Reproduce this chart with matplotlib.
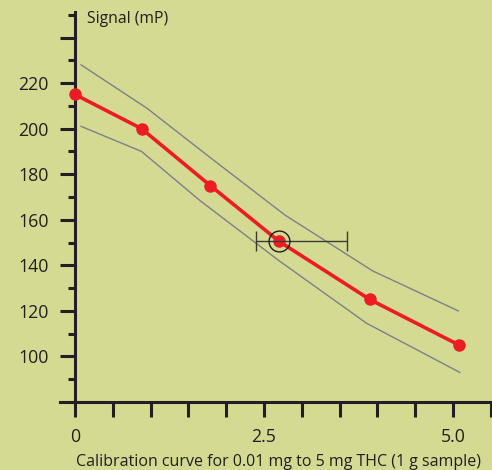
import matplotlib
matplotlib.use("Agg")
import matplotlib.pyplot as plt
from matplotlib.ticker import MultipleLocator

# calibration points
conc = [0.0, 0.88, 1.79, 2.70, 3.90, 5.08]
signal = [215, 200, 175, 150.5, 125, 105]

# upper / lower confidence band
upper_x = [0.08, 0.95, 1.80, 2.78, 3.94, 5.07]
upper_y = [228, 209, 187, 162, 137.5, 120]
lower_x = [0.08, 0.88, 1.65, 2.70, 3.86, 5.09]
lower_y = [201, 190, 168.5, 142, 114.5, 93]

# sample measurement with its uncertainty range
sample_x = 2.70
sample_y = 150.5
sample_lo = 2.39
sample_hi = 3.60

ytick_vals = [100, 120, 140, 160, 180, 200, 220, 240]
ytick_labels = ["100", "120", "140", "160", "180", "200", "220", ""]
xtick_vals = [0, 0.5, 1.0, 1.5, 2.0, 2.5, 3.0, 3.5, 4.0, 4.5, 5.0, 5.5]
xtick_labels = ["0", "", "", "", "", "2.5", "", "", "", "", "5.0", ""]

bg = "#d4da92"
ink = "#231f20"

plt.rcParams['font.family'] = ['Open Sans', 'DejaVu Sans']

fig = plt.figure(figsize=(4.92, 4.70), dpi=100, facecolor=bg)
ax = fig.add_axes([60/492, 68/470, 432/492, 390/470])
ax.set_facecolor(bg)

ax.plot(upper_x, upper_y, color="#7d8088", lw=1.0)
ax.plot(lower_x, lower_y, color="#7d8088", lw=1.0)

ax.plot(conc, signal, color="#ed1c24", lw=2.6, marker="o", ms=8, mec="#ed1c24", zorder=3)

ax.errorbar([sample_x], [sample_y],
            xerr=[[sample_x - sample_lo], [sample_hi - sample_x]],
            fmt="none", ecolor="#3b3b33", elinewidth=1.0, capsize=7, capthick=1.0, zorder=4)
ax.plot([sample_x], [sample_y], marker="o", ms=15, mfc="none", mec=ink, mew=1.0, zorder=5)

ax.set_xlim(-15/75.6, 432/75.6 - 15/75.6)
ax.set_ylim(80, 251.2)

for s in ["top", "right"]:
    ax.spines[s].set_visible(False)
ax.spines["left"].set_position(("data", 0))
ax.spines["left"].set_linewidth(2.2)
ax.spines["bottom"].set_linewidth(2.2)
ax.spines["left"].set_color(ink)
ax.spines["bottom"].set_color(ink)

ax.set_yticks(ytick_vals)
ax.set_yticklabels(ytick_labels)
ax.yaxis.set_minor_locator(MultipleLocator(10))
ax.set_xticks(xtick_vals)
ax.set_xticklabels(xtick_labels)

ax.tick_params(axis="y", which="major", length=11, width=2.2, color=ink,
               labelsize=12.8, labelcolor=ink, pad=8)
ax.tick_params(axis="y", which="minor", length=5, width=2.2, color=ink)
ax.tick_params(axis="x", which="major", length=11, width=2.2, color=ink,
               labelsize=12.8, labelcolor=ink, pad=8)

fig.text(87/492, 1 - 19/470, "Signal (mP)", fontsize=11.3, color=ink, va="center", ha="left")
fig.text(279/492, 1 - 462/470, "Calibration curve for 0.01 mg to 5 mg THC (1 g sample)",
         fontsize=11.5, color=ink, va="center", ha="center")

fig.savefig("out.png", dpi=100, facecolor=bg)
